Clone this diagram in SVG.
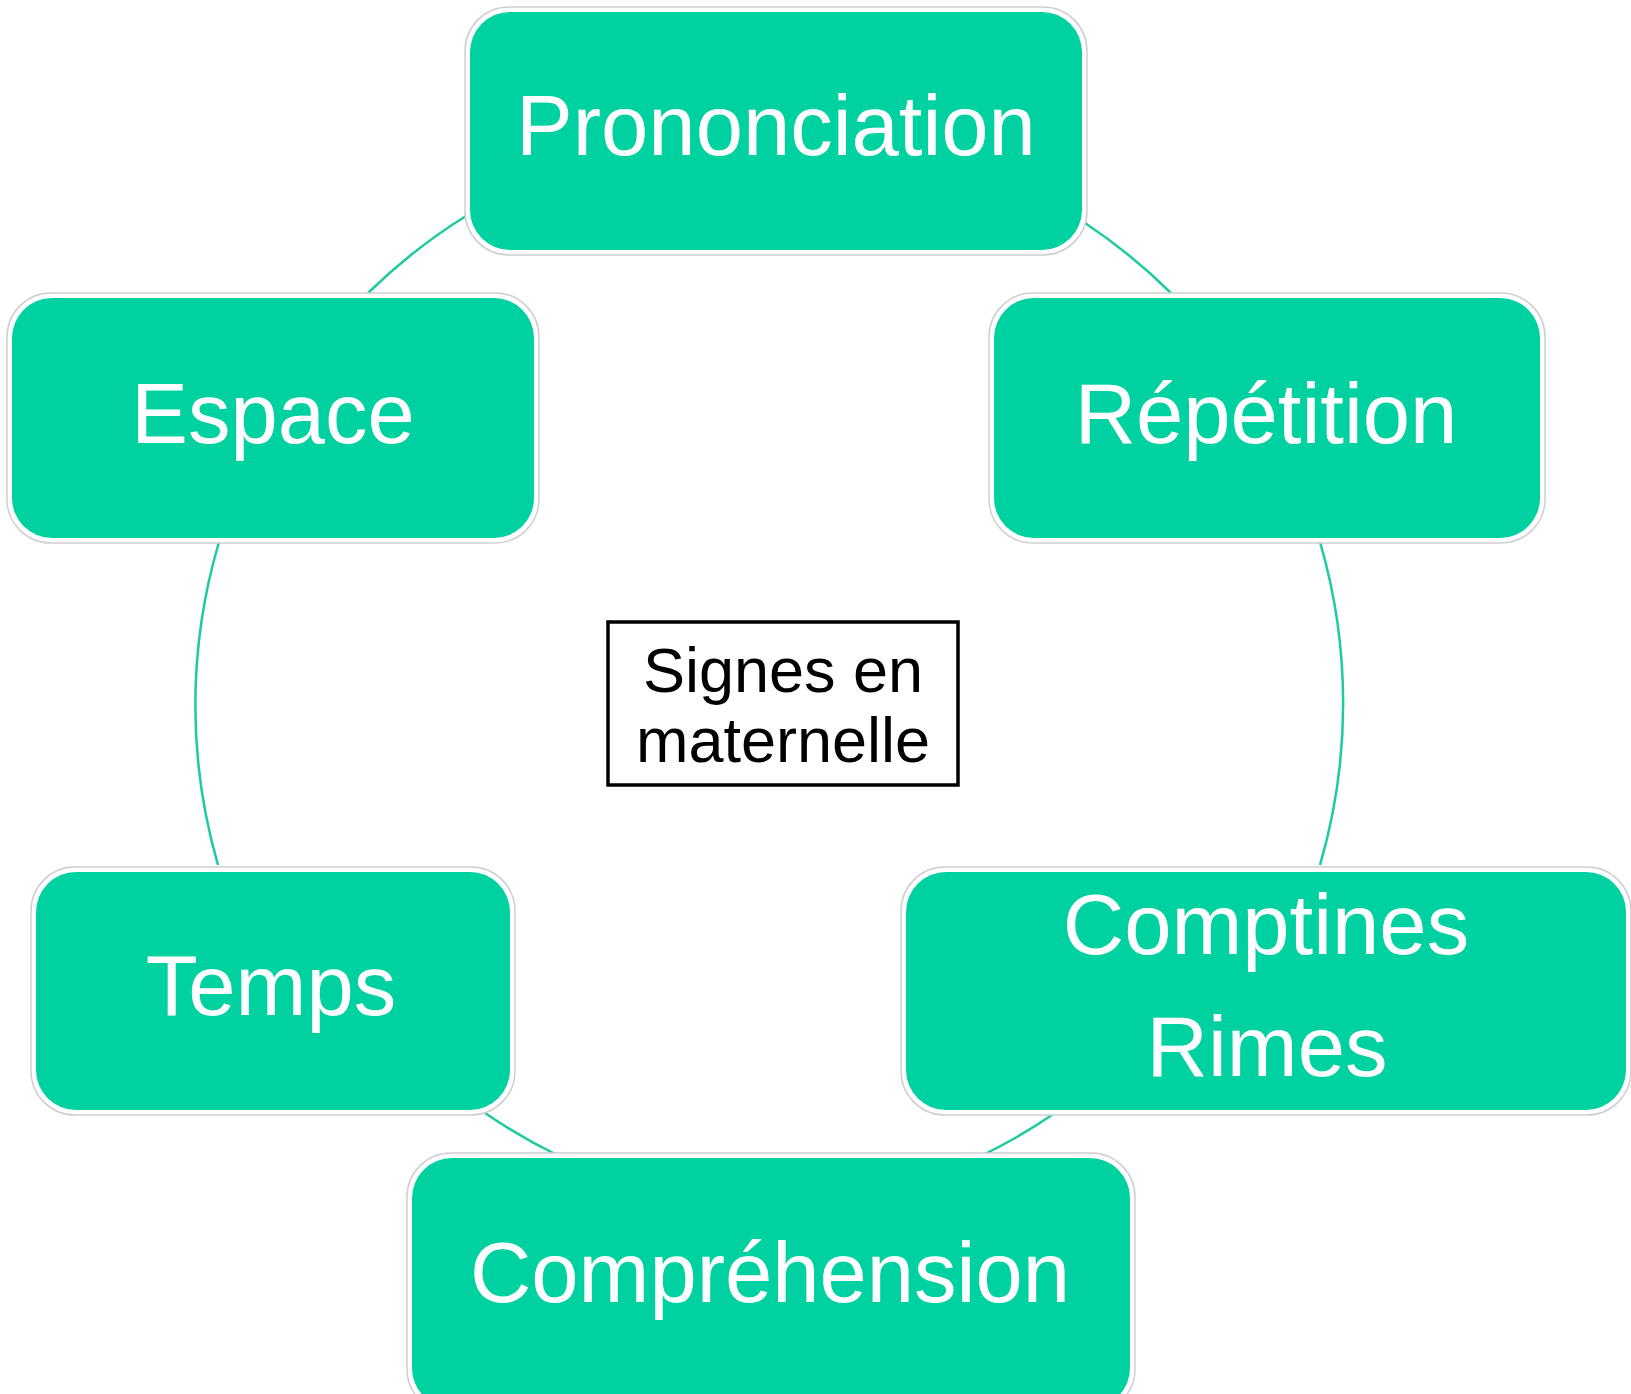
<svg xmlns="http://www.w3.org/2000/svg" width="1631" height="1394" viewBox="0 0 1631 1394">
<style>
.halo{fill:#ffffff;stroke:#cfcfcf;stroke-width:1.5}
.box{fill:#00D1A0}
.lbl{font-family:"Liberation Sans",Arial,sans-serif;font-size:85px;fill:#ffffff;text-anchor:middle}
.ctr{font-family:"Liberation Sans",Arial,sans-serif;font-size:63px;fill:#000000;text-anchor:middle}
.con{fill:none;stroke:#1CCB9E;stroke-width:2.5}
</style>
<rect width="1631" height="1394" fill="#ffffff"/>
<g id="connectors">
<path class="con" d="M368,293 A575,575 0 0 1 466,216"/>
<path class="con" d="M1085,223 A575,575 0 0 1 1171,293"/>
<path class="con" d="M1320,542 A575,575 0 0 1 1320,865"/>
<path class="con" d="M1055,1113 A575,575 0 0 1 985,1154"/>
<path class="con" d="M559,1156 A575,575 0 0 1 485,1113"/>
<path class="con" d="M218,865 A575,575 0 0 1 219,542"/>
</g>
<g id="node-prononciation">
<rect class="halo" x="465" y="7" width="622" height="248" rx="44"/>
<rect class="box" x="470" y="12" width="612" height="238" rx="40"/>
<text class="lbl" x="776" y="155">Prononciation</text>
</g>
<g id="node-repetition">
<rect class="halo" x="989" y="293" width="556" height="250" rx="44"/>
<rect class="box" x="994" y="298" width="546" height="240" rx="40"/>
<text class="lbl" x="1266" y="443">Répétition</text>
</g>
<g id="node-comptines">
<rect class="halo" x="901" y="867" width="730" height="248" rx="44"/>
<rect class="box" x="906" y="872" width="720" height="238" rx="40"/>
<text class="lbl" x="1266" y="954">Comptines</text>
<text class="lbl" x="1267" y="1076">Rimes</text>
</g>
<g id="node-comprehension">
<rect class="halo" x="407" y="1153" width="728" height="260" rx="44"/>
<rect class="box" x="412" y="1158" width="718" height="250" rx="40"/>
<text class="lbl" x="770" y="1302">Compréhension</text>
</g>
<g id="node-temps">
<rect class="halo" x="31" y="867" width="484" height="248" rx="44"/>
<rect class="box" x="36" y="872" width="474" height="238" rx="40"/>
<text class="lbl" x="271" y="1015">Temps</text>
</g>
<g id="node-espace">
<rect class="halo" x="7" y="293" width="532" height="250" rx="44"/>
<rect class="box" x="12" y="298" width="522" height="240" rx="40"/>
<text class="lbl" x="273" y="443">Espace</text>
</g>
<g id="node-center">
<rect x="608" y="622" width="350" height="163" fill="#ffffff" stroke="#000000" stroke-width="3.5"/>
<text class="ctr" x="783" y="692">Signes en</text>
<text class="ctr" x="783" y="762">maternelle</text>
</g>
</svg>
